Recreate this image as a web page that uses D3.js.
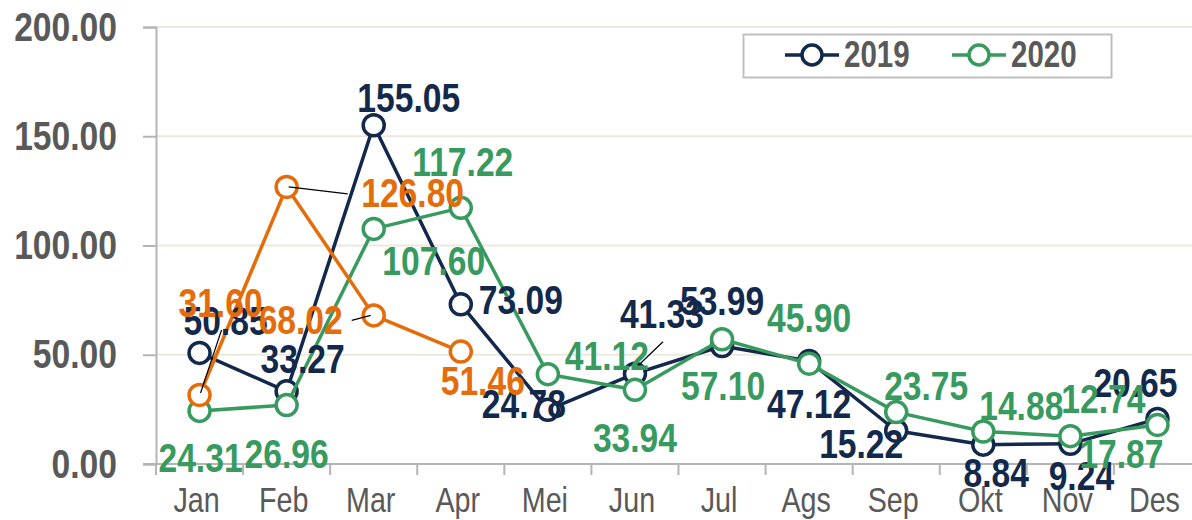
<!DOCTYPE html>
<html>
<head>
<meta charset="utf-8">
<script src="https://cdn.jsdelivr.net/npm/d3@7"></script>
<style>
  body { margin: 0; background: #fff; }
  svg { display: block; }
  text { font-family: "Liberation Sans", Arial, sans-serif; }
</style>
</head>
<body>
<div id="chart"></div>
<script>
// <-- ************ DATA ************ -->
const MONTHS = ["Jan", "Feb", "Mar", "Apr", "Mei", "Jun", "Jul", "Ags", "Sep", "Okt", "Nov", "Des"];
const Y_TICKS = [0, 50, 100, 150, 200];

const VALUES_2019 = [50.85, 33.27, 155.05, 73.09, 24.78, 41.33, 53.99, 47.12, 15.22, 8.84, 9.24, 20.65];
const VALUES_2020 = [24.31, 26.96, 107.60, 117.22, 41.12, 33.94, 57.10, 45.90, 23.75, 14.88, 12.74, 17.87];
// third series (no legend entry), Jan - Apr only
const VALUES_2021 = [31.60, 126.80, 68.02, 51.46];

// <-- ************ LAYOUT ************ -->
const FRAME_WIDTH = 1192;
const FRAME_HEIGHT = 520;
const PLOT = {left: 156, right: 1201, top: 27, bottom: 464};
const NARROW = 0.82; // squeeze Arial-metric text to look like Arial Narrow

const NAVY = "#13294b";
const GREEN = "#389a5f";
const ORANGE = "#e46c0a";
const GRAY_TEXT = "#595959";

// label offsets (dx to text centre, dy to baseline) relative to each point
const OFF_2019 = [[26,-18],[16,-18],[35,-13],[60,10],[-24,8],[27,-46],[0,-31],[0,57],[-35,27],[13,42],[11,46],[-22,-22]];
const OFF_2020 = [[1,61],[0,63],[60,46],[2,-32],[59,-4],[0,62],[1,61],[0,-32],[30,-12],[38,-11],[33,-23],[-36,43]];
const OFF_2021 = [[21,-78],[126,20],[-73,19],[22,43]];

const svg = d3.select("#chart")
  .append("svg")
  .attr("width", FRAME_WIDTH)
  .attr("height", FRAME_HEIGHT);

const X_SCALE = d3.scaleBand()
  .domain(MONTHS)
  .range([PLOT.left, PLOT.right]);

const Y_SCALE = d3.scaleLinear()
  .domain([0, 200])
  .range([PLOT.bottom, PLOT.top]);

const xc = (i) => X_SCALE(MONTHS[i]) + X_SCALE.bandwidth() / 2;

// GRID
svg.append("g")
  .selectAll("line")
  .data(Y_TICKS.filter(d => d > 0))
  .enter()
  .append("line")
    .attr("x1", PLOT.left)
    .attr("x2", FRAME_WIDTH)
    .attr("y1", d => Y_SCALE(d))
    .attr("y2", d => Y_SCALE(d))
    .attr("stroke", "#ebe8dc")
    .attr("stroke-width", 2);

// Y AXIS
const yAxis = svg.append("g")
  .attr("transform", "translate(" + PLOT.left + ",0)")
  .call(d3.axisLeft(Y_SCALE).tickValues(Y_TICKS).tickSize(13).tickFormat(d3.format(".2f")).tickPadding(26));
yAxis.select(".domain").attr("stroke", "#b5b5b5").attr("stroke-width", 2);
yAxis.selectAll(".tick line").attr("stroke", "#b5b5b5").attr("stroke-width", 2);
yAxis.selectAll(".tick text")
  .attr("class", "narrow")
  .attr("fill", GRAY_TEXT)
  .attr("font-size", "41px")
  .attr("font-weight", "bold")
  .attr("dy", "0.32em");

// X AXIS
const xAxis = svg.append("g")
  .attr("transform", "translate(0," + PLOT.bottom + ")");
xAxis.append("line")
  .attr("x1", PLOT.left - 13).attr("x2", FRAME_WIDTH)
  .attr("stroke", "#b5b5b5").attr("stroke-width", 2);
xAxis.selectAll("tick")
  .data(MONTHS)
  .enter()
  .append("line")
    .attr("x1", d => X_SCALE(d))
    .attr("x2", d => X_SCALE(d))
    .attr("y1", 0).attr("y2", 11)
    .attr("stroke", "#b5b5b5").attr("stroke-width", 2);
xAxis.selectAll("labels")
  .data(MONTHS)
  .enter()
  .append("text")
    .attr("class", "narrow")
    .attr("x", (d, i) => xc(i) - 3)
    .attr("y", 48)
    .attr("text-anchor", "middle")
    .attr("fill", GRAY_TEXT)
    .attr("font-size", "35px")
    .text(d => d);

// SERIES
const line = d3.line()
  .x((d, i) => xc(i))
  .y(d => Y_SCALE(d));

function drawSeries(values, color) {
  const g = svg.append("g");
  g.append("path")
    .datum(values)
    .attr("d", line)
    .attr("fill", "none")
    .attr("stroke", color)
    .attr("stroke-width", 3.5)
    .attr("stroke-linejoin", "round");
  g.selectAll("circle")
    .data(values)
    .enter()
    .append("circle")
      .attr("cx", (d, i) => xc(i))
      .attr("cy", d => Y_SCALE(d))
      .attr("r", 10.5)
      .attr("fill", "#fff")
      .attr("stroke", color)
      .attr("stroke-width", 3.5);
}

drawSeries(VALUES_2019, NAVY);
drawSeries(VALUES_2020, GREEN);
drawSeries(VALUES_2021, ORANGE);

// LEADER LINES (thin black)
const LEADERS = [
  {series: VALUES_2021, i: 0, pts: [[1, -2], [22, -65]]},
  {series: VALUES_2021, i: 1, pts: [[2, 0], [61, 7]]},
  {series: VALUES_2021, i: 2, pts: [[-22, 5], [-3, 0]]},
  {series: VALUES_2019, i: 5, pts: [[2, -7], [28, -32]]}
];
svg.append("g")
  .selectAll("path")
  .data(LEADERS)
  .enter()
  .append("path")
    .attr("d", d => d3.line()(d.pts.map(p => [xc(d.i) + p[0], Y_SCALE(d.series[d.i]) + p[1]])))
    .attr("stroke", "#000")
    .attr("stroke-width", 1.2)
    .attr("fill", "none");

// DATA LABELS
function drawLabels(values, offsets, color) {
  svg.append("g")
    .selectAll("text")
    .data(values)
    .enter()
    .append("text")
      .attr("class", "narrow")
      .attr("x", (d, i) => xc(i) + offsets[i][0])
      .attr("y", (d, i) => Y_SCALE(d) + offsets[i][1])
      .attr("text-anchor", "middle")
      .attr("fill", color)
      .attr("font-size", "41px")
      .attr("font-weight", "bold")
      .text(d => d.toFixed(2));
}

drawLabels(VALUES_2019, OFF_2019, NAVY);
drawLabels(VALUES_2020, OFF_2020, GREEN);
drawLabels(VALUES_2021, OFF_2021, ORANGE);

// LEGEND
const legend = svg.append("g");
legend.append("rect")
  .attr("x", 743.5).attr("y", 34.5)
  .attr("width", 368).attr("height", 43)
  .attr("fill", "#fff")
  .attr("stroke", "#bfbfbf")
  .attr("stroke-width", 2);

const LEGEND_ITEMS = [
  {name: "2019", color: NAVY, x: 785},
  {name: "2020", color: GREEN, x: 952}
];
const items = legend.selectAll("g")
  .data(LEGEND_ITEMS)
  .enter()
  .append("g")
    .attr("transform", d => "translate(" + d.x + ",55)");
items.append("line")
  .attr("x1", 0).attr("x2", 54)
  .attr("stroke", d => d.color)
  .attr("stroke-width", 3.5);
items.append("circle")
  .attr("cx", 27).attr("r", 10)
  .attr("fill", "#fff")
  .attr("stroke", d => d.color)
  .attr("stroke-width", 3.5);
items.append("text")
  .attr("class", "narrow")
  .attr("x", 59).attr("y", 12)
  .attr("fill", GRAY_TEXT)
  .attr("font-size", "36px")
  .attr("font-weight", "bold")
  .text(d => d.name);

// squeeze all narrow texts horizontally
svg.selectAll("text.narrow").each(function() {
  const w = this.getComputedTextLength();
  d3.select(this)
    .attr("textLength", w * NARROW)
    .attr("lengthAdjust", "spacingAndGlyphs");
});
</script>
</body>
</html>
